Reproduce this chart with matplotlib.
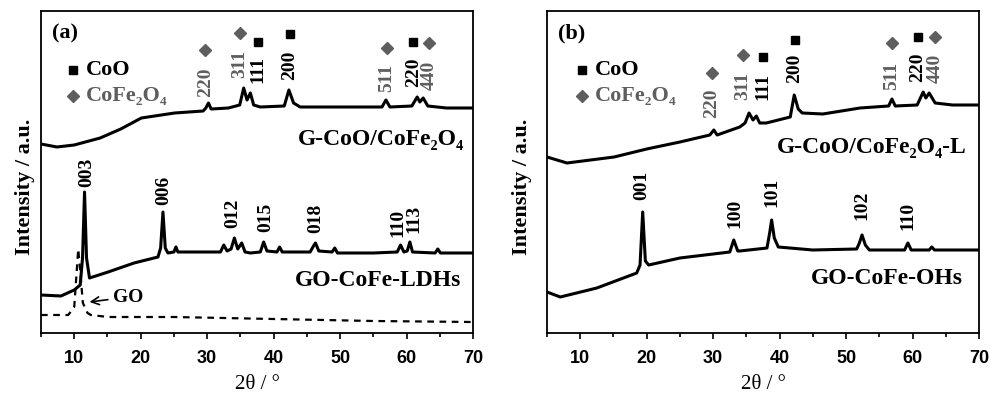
import matplotlib
matplotlib.use('Agg')
import matplotlib.pyplot as plt

# XRD patterns (2theta in degrees, intensity in arbitrary units)
a_top_x = [5, 7.4, 10, 13.9, 17, 20.1, 25.1, 29.4, 29.8, 30.2, 30.6, 33.2, 34.9, 35.5, 36.0, 36.5, 37.0, 38,
           41.6, 42.3, 43.0, 44, 50, 56.3, 56.9, 57.5, 60.8, 61.6, 62.0, 62.5, 63.2, 66, 70]
a_top_y = [189, 186, 188, 195, 204, 215, 220, 222, 225, 230, 224, 225, 228, 245, 233, 240, 228, 226,
           227, 243, 230, 226, 226, 226, 233, 226, 227, 236, 231, 235, 227, 225, 225]

a_ldh_x = [5, 8.0, 10.0, 10.9, 11.25, 11.55, 11.85, 12.3, 15.1, 19.0, 22.6, 23.0, 23.35, 23.7, 24.1, 25.0,
           25.3, 25.6, 28, 32.0, 32.5, 33.0, 33.6, 34.1, 34.6, 35.2, 35.7, 36.5, 38.0, 38.5, 39.0, 40.5,
           40.9, 41.3, 45.5, 46.0, 46.3, 46.8, 48.8, 49.2, 49.6, 55, 58.6, 59.1, 59.6, 60.1, 60.5, 60.9,
           64.3, 64.7, 65.1, 70]
a_ldh_y = [38, 37, 43, 48, 75, 141, 75, 55, 61, 70, 76, 85, 121, 85, 80, 81,
           86, 81, 81, 81, 88, 82, 84, 95, 84, 90, 81, 80, 81, 91, 82, 81,
           86, 81, 81, 87, 90, 82, 81, 85, 80, 80, 81, 88, 81, 82, 91, 81,
           80, 84, 80, 80]

go_x = [5, 9.1, 10.0, 10.3, 10.6, 10.9, 11.3, 12.0, 12.5, 15.1, 25, 40, 55, 70]
go_y = [18, 18, 26, 55, 84, 62, 30, 20, 18, 16, 16, 14, 12, 11]

b_top_x = [5, 8.0, 15.1, 20.0, 25.0, 29.5, 30.1, 30.6, 34.0, 34.8, 35.4, 36.0, 36.5, 37.0, 38,
           41.6, 42.2, 42.8, 43.4, 46.5, 52.1, 56.4, 56.9, 57.4, 60.7, 61.6, 62.0, 62.5, 63.4, 66, 70]
b_top_y = [176, 170, 176, 184, 191, 198, 203, 198, 206, 210, 220, 213, 217, 210, 210,
           216, 238, 224, 220, 219, 225, 227, 234, 227, 228, 241, 235, 240, 230, 228, 228]

b_oh_x = [5, 7.0, 12.5, 18.5, 19.0, 19.4, 19.8, 20.3, 25.0, 32.5, 33.1, 33.7, 34.0, 38.1, 38.5, 38.8,
          39.2, 39.8, 45, 51.6, 52.0, 52.4, 52.9, 53.5, 58.8, 59.3, 59.8, 62.5, 62.9, 63.3, 70]
b_oh_y = [41, 36, 45, 60, 68, 121, 72, 68, 75, 81, 93, 82, 82, 85, 100, 113,
          95, 86, 83, 84, 90, 98, 88, 83, 83, 90, 83, 83, 86, 83, 83]

# peak indexing: (2theta, hkl, phase)
a_top_peaks = [(29.7, '220', 'F'), (34.9, '311', 'F'), (37.6, '111', 'C'), (42.4, '200', 'C'),
               (57.0, '511', 'F'), (61.0, '220', 'C'), (63.4, '440', 'F')]
a_ldh_peaks = [(11.9, '003'), (23.4, '006'), (33.9, '012'), (38.8, '015'),
               (46.3, '018'), (58.7, '110'), (61.1, '113')]
b_top_peaks = [(29.8, '220', 'F'), (34.5, '311', 'F'), (37.5, '111', 'C'), (42.3, '200', 'C'),
               (56.9, '511', 'F'), (60.8, '220', 'C'), (63.4, '440', 'F')]
b_oh_peaks = [(19.3, '001'), (33.3, '100'), (38.9, '101'), (52.4, '102'), (59.3, '110')]

# label placement (bottom of rotated label, marker height) in the same units
a_top_lab = [236, 255, 250, 253, 241, 246, 243]
a_top_mk = [283, 300, 291, 299, 285, 291, 290]
a_ldh_lab = [146, 128, 105, 101, 100, 96, 100]
b_top_lab = [215, 233, 233, 250, 243, 251, 250]
b_top_mk = [260, 278, 276, 293, 290, 296, 296]
b_oh_lab = [133, 105, 126, 113, 103]

GRAY = '#5e5e5e'
SERIF = ['Liberation Serif', 'DejaVu Serif']
SANS = ['Liberation Sans', 'DejaVu Sans']

fig = plt.figure(figsize=(9.9, 3.95), dpi=100)
ax1 = fig.add_axes([41/990, 62/395, 432/990, 322/395])
ax2 = fig.add_axes([547/990, 62/395, 432/990, 322/395])


def style(ax, ylab_x):
    ax.set_xlim(5, 70)
    ax.set_ylim(0, 322)
    ax.set_yticks([])
    ax.set_xticks(range(10, 71, 10))
    ax.set_xticks(range(5, 71, 10), minor=True)
    ax.tick_params(axis='x', which='major', direction='out', length=4, width=1.2, pad=8)
    ax.tick_params(axis='x', which='minor', direction='out', length=3, width=1.2)
    for lab in ax.get_xticklabels():
        lab.set_family(SANS)
        lab.set_fontweight('bold')
        lab.set_fontsize(13)
    for s in ax.spines.values():
        s.set_linewidth(1.3)
    ax.set_xlabel('2θ / °', family=SERIF, fontsize=15, labelpad=6)
    ax.set_ylabel('Intensity / a.u.', family=SERIF, fontweight='bold', fontsize=16)
    ax.yaxis.set_label_coords(ylab_x, 0.453)


def phase_labels(ax, peaks, labs, mks):
    for (x, t, ph), yl, ym in zip(peaks, labs, mks):
        c = 'black' if ph == 'C' else GRAY
        ax.text(x, yl, t, rotation=90, ha='center', va='bottom', color=c,
                family=SERIF, fontweight='bold', fontsize=14)
        ax.plot(x, ym, marker='s' if ph == 'C' else 'D', ms=6 if ph == 'C' else 6.5,
                color=c, ls='none')


def legend(ax, xm, xt):
    ax.plot(xm, 0.817, 's', ms=6, color='black', transform=ax.transAxes)
    ax.plot(xm, 0.736, 'D', ms=6.5, color=GRAY, transform=ax.transAxes)
    ax.text(xt, 0.817, 'CoO', transform=ax.transAxes, va='center', family=SERIF,
            fontweight='bold', fontsize=16)
    ax.text(xt, 0.736, 'CoFe₂O₄', transform=ax.transAxes, va='center', color=GRAY,
            family=SERIF, fontweight='bold', fontsize=16)


# panel (a)
ax1.plot(a_top_x, a_top_y, color='black', lw=2.2)
ax1.plot(a_ldh_x, a_ldh_y, color='black', lw=2.2)
ax1.plot(go_x, go_y, color='black', lw=1.6, ls=(0, (3, 2.5)))
phase_labels(ax1, a_top_peaks, a_top_lab, a_top_mk)
for (x, t), yl in zip(a_ldh_peaks, a_ldh_lab):
    ax1.text(x, yl, t, rotation=90, ha='center', va='bottom', family=SERIF,
             fontweight='bold', fontsize=14)
ax1.text(68.6, 193, 'G-CoO/CoFe₂O₄', ha='right', va='center', family=SERIF,
         fontweight='bold', fontsize=17)
ax1.text(68.3, 52, 'GO-CoFe-LDHs', ha='right', va='center', family=SERIF,
         fontweight='bold', fontsize=17)
ax1.annotate('GO', xy=(12.3, 31), xytext=(15.9, 36), va='center', family=SERIF,
             fontweight='bold', fontsize=14,
             arrowprops=dict(arrowstyle='->', lw=1.2, color='black', shrinkA=2, shrinkB=0))
ax1.text(0.025, 0.93, '(a)', transform=ax1.transAxes, va='center', family=SERIF,
         fontweight='bold', fontsize=16)
legend(ax1, 0.074, 0.104)
style(ax1, -0.014)

# panel (b)
ax2.plot(b_top_x, b_top_y, color='black', lw=2.2)
ax2.plot(b_oh_x, b_oh_y, color='black', lw=2.2)
phase_labels(ax2, b_top_peaks, b_top_lab, b_top_mk)
for (x, t), yl in zip(b_oh_peaks, b_oh_lab):
    ax2.text(x, yl, t, rotation=90, ha='center', va='bottom', family=SERIF,
             fontweight='bold', fontsize=14)
ax2.text(68.2, 185, 'G-CoO/CoFe₂O₄-L', ha='right', va='center', family=SERIF,
         fontweight='bold', fontsize=17)
ax2.text(67.6, 55, 'GO-CoFe-OHs', ha='right', va='center', family=SERIF,
         fontweight='bold', fontsize=17)
ax2.text(0.025, 0.93, '(b)', transform=ax2.transAxes, va='center', family=SERIF,
         fontweight='bold', fontsize=16)
legend(ax2, 0.081, 0.111)
style(ax2, -0.035)

fig.savefig('out.png', dpi=100)
